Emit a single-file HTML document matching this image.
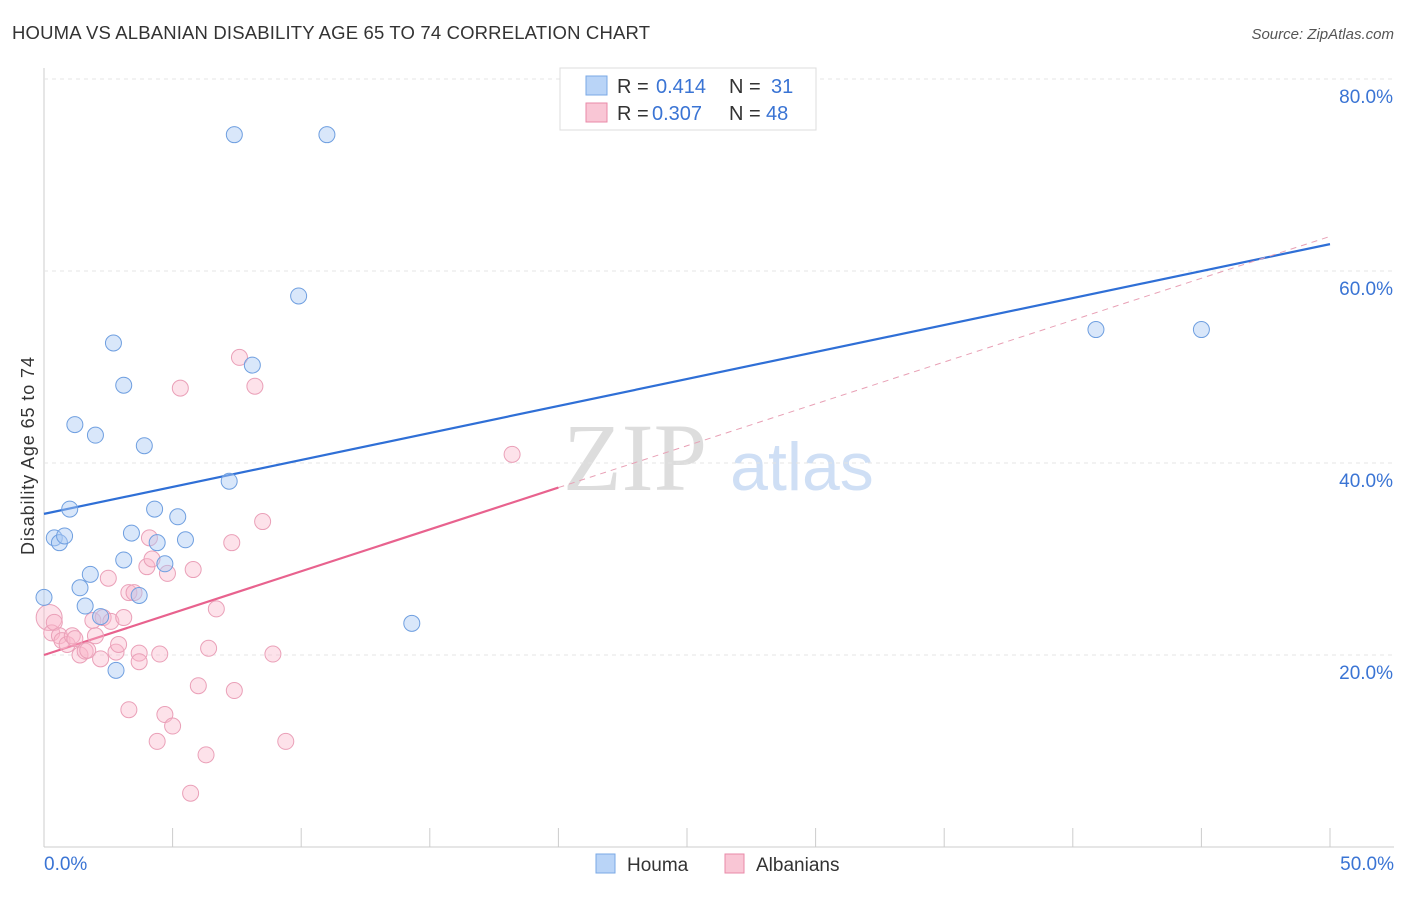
<!DOCTYPE html>
<html><head><meta charset="utf-8"><style>
body{margin:0;background:#fff;font-family:"Liberation Sans",sans-serif;}
</style></head><body>
<svg id="c" width="1406" height="892" xmlns="http://www.w3.org/2000/svg" font-family="Liberation Sans, sans-serif">
<text x="12" y="39" font-size="18.5" fill="#333" textLength="638">HOUMA VS ALBANIAN DISABILITY AGE 65 TO 74 CORRELATION CHART</text>
<text x="1394" y="39" font-size="15" fill="#555" font-style="italic" text-anchor="end">Source: ZipAtlas.com</text>
<text x="34" y="456" font-size="18" fill="#333" text-anchor="middle" textLength="198" transform="rotate(-90 34 456)">Disability Age 65 to 74</text>
<g>
<text x="635" y="490" font-size="96" fill="#ddd" font-family="Liberation Serif, serif" text-anchor="middle">ZIP</text>
<text x="802" y="490" font-size="68" fill="#cfdff5" text-anchor="middle">atlas</text>
</g>
<g id="grid"></g><g id="marks"></g>
<g>
<rect x="560" y="68" width="256" height="62" fill="#fff" stroke="#ddd"/>
<rect x="586" y="76" width="21" height="19" fill="#b9d4f7" stroke="#7aa8e6"/>
<text x="617" y="93" font-size="20" fill="#333">R = </text><text x="656" y="93" font-size="20" fill="#3a74d4">0.414</text>
<text x="729" y="93" font-size="20" fill="#333">N = </text><text x="771" y="93" font-size="20" fill="#3a74d4">31</text>
<rect x="586" y="103" width="21" height="19" fill="#f9c6d5" stroke="#e98aa8"/>
<text x="617" y="120" font-size="20" fill="#333">R = </text><text x="652" y="120" font-size="20" fill="#3a74d4">0.307</text>
<text x="729" y="120" font-size="20" fill="#333">N = </text><text x="766" y="120" font-size="20" fill="#3a74d4">48</text>
</g>
<g>
<rect x="596" y="854" width="19" height="19" fill="#b9d4f7" stroke="#7aa8e6"/>
<text x="627" y="871" font-size="19" fill="#333">Houma</text>
<rect x="725" y="854" width="19" height="19" fill="#f9c6d5" stroke="#e98aa8"/>
<text x="756" y="871" font-size="19" fill="#333">Albanians</text>
</g>
</svg>
<script>
const xTicks=[0,5,10,15,20,25,30,35,40,45,50];
const yTicks=[20,40,60,80];
const houmaX=[0,0.4,0.6,0.8,1.0,1.2,1.4,1.6,1.8,2.0,2.2,2.7,2.8,3.1,3.1,3.4,3.7,3.9,4.3,4.4,4.7,5.2,5.5,7.2,7.4,8.1,9.9,11.0,14.3,40.9,45.0];
const houmaY=[26.0,32.2,31.7,32.4,35.2,44.0,27.0,25.1,28.4,42.9,24.0,52.5,18.4,29.9,48.1,32.7,26.2,41.8,35.2,31.7,29.5,34.4,32.0,38.1,74.2,50.2,57.4,74.2,23.3,53.9,53.9];
const albX=[0.2,0.3,0.4,0.6,0.7,0.9,1.1,1.2,1.4,1.6,1.7,1.9,2.2,2.3,2.5,2.6,2.8,2.9,3.1,3.3,3.3,3.5,3.7,3.7,4.0,4.1,4.2,4.4,4.5,4.7,4.8,5.0,5.3,5.8,6.0,6.3,6.4,6.7,7.3,7.4,7.6,8.2,8.5,8.9,9.4,5.7,18.2,2.0];
const albY=[23.9,22.3,23.4,22.0,21.5,21.1,22.0,21.7,20.0,20.4,20.5,23.6,19.6,23.9,28.0,23.5,20.3,21.1,23.9,14.3,26.5,26.5,20.2,19.3,29.2,32.2,30.0,11.0,20.1,13.8,28.5,12.6,47.8,28.9,16.8,9.6,20.7,24.8,31.7,16.3,51.0,48.0,33.9,20.1,11.0,5.6,40.9,22.0];
const blueLine=[34.7,62.8];
const pinkLine=[20.0,63.6];
const NS="http://www.w3.org/2000/svg";
const X=v=>44+v*25.72, Y=v=>847-v*9.6;
function mk(t,a,p){const e=document.createElementNS(NS,t);for(const k in a)e.setAttribute(k,a[k]);p.appendChild(e);return e;}
const g=document.getElementById('grid'),m=document.getElementById('marks');
let ax=mk('line',{x1:44,y1:68,x2:44,y2:847,stroke:'#ccc'},g);


let bx=mk('line',{x1:44,y1:847,x2:1394,y2:847,stroke:'#ccc'},g);


yTicks.forEach(v=>{
 let l=mk('line',{x1:44,y1:Y(v),x2:1394,y2:Y(v),stroke:'#e4e4e4','stroke-dasharray':'4,4'},g);
 
 
 let t=mk('text',{x:1393,y:Y(v)+24,'font-size':19,fill:'#3a74d4','text-anchor':'end'},g);t.textContent=v.toFixed(1)+'%';
 
 
});
xTicks.forEach(v=>{
 let l=mk('line',{x1:X(v),y1:828,x2:X(v),y2:847,stroke:'#ccc'},g);
 
 
});
[[0,'start',44],[50,'end',1394]].forEach(([v,a,x])=>{let t=mk('text',{x:x,y:870,'font-size':19,fill:'#3a74d4','text-anchor':a},g);t.textContent=v.toFixed(1)+'%';
 
 });
let bl=mk('line',{x1:X(0),y1:Y(blueLine[0]),x2:X(50),y2:Y(blueLine[1]),stroke:'#2f6fd6','stroke-width':2.2},m);


const pAt=x=>pinkLine[0]+(pinkLine[1]-pinkLine[0])*x/50;
let pd=mk('line',{x1:X(20),y1:Y(pAt(20)),x2:X(50),y2:Y(pAt(50)),stroke:'#e8a0b5','stroke-width':1,'stroke-dasharray':'6,5'},m);


let pl=mk('line',{x1:X(0),y1:Y(pAt(0)),x2:X(20),y2:Y(pAt(20)),stroke:'#e8628e','stroke-width':2.2},m);


albX.forEach((v,i)=>{let c=mk('circle',{cx:X(v),cy:Y(albY[i]),r:i==0?13:8,fill:'rgba(249,182,203,0.4)',stroke:'#eaa0b8','stroke-width':1},m);
 
 });
houmaX.forEach((v,i)=>{let c=mk('circle',{cx:X(v),cy:Y(houmaY[i]),r:8,fill:'rgba(170,201,243,0.45)',stroke:'#6f9fe0','stroke-width':1},m);
 
 });
</script>
</body></html>
